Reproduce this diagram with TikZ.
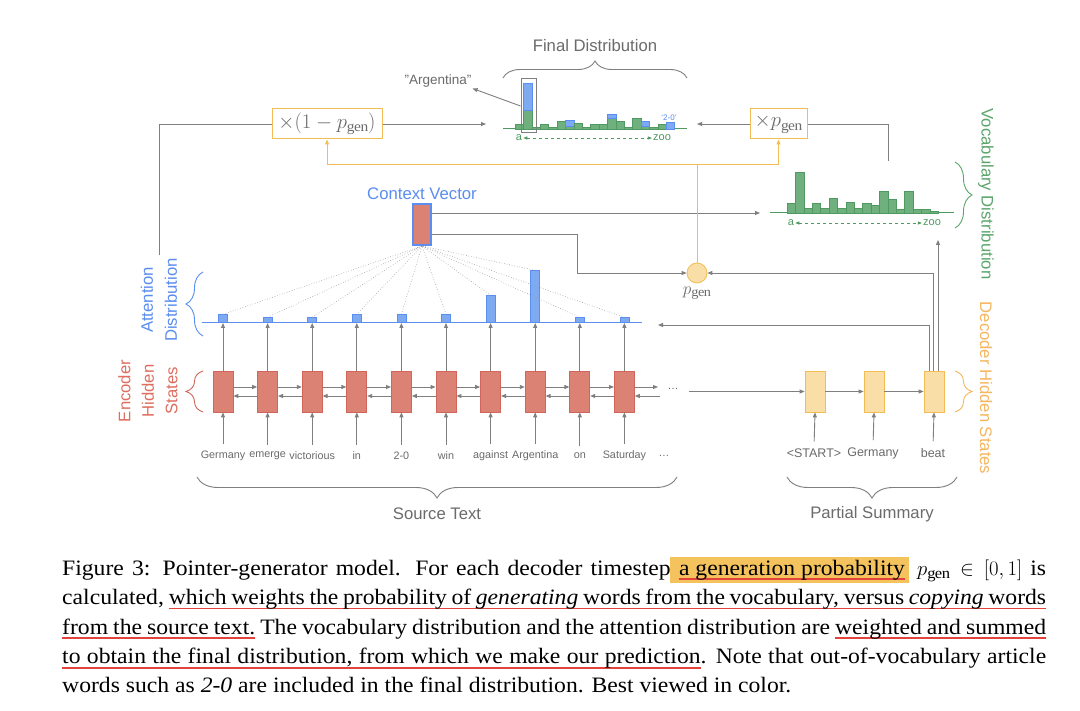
\documentclass[tikz,border=0pt]{standalone}
\usepackage{fontspec}
\setmainfont{Liberation Serif}[FakeStretch=1.075]
\setsansfont{Liberation Sans}
\usetikzlibrary{positioning,calc,arrows.meta,decorations.pathreplacing}
\definecolor{lineg}{HTML}{7f7f7f}
\definecolor{textg}{HTML}{6b6b6b}
\definecolor{encred}{HTML}{dc8275}
\definecolor{encredb}{HTML}{d0665a}
\definecolor{attblue}{HTML}{7eaaf2}
\definecolor{attblueb}{HTML}{5a8ef0}
\definecolor{vocgreen}{HTML}{6fb07e}
\definecolor{vocgreenb}{HTML}{4f9a60}
\definecolor{decor}{HTML}{f9dea8}
\definecolor{decorb}{HTML}{f2bd55}
\definecolor{labred}{HTML}{de6e60}
\definecolor{labblue}{HTML}{5b8def}
\definecolor{labgreen}{HTML}{5aa66b}
\definecolor{laborange}{HTML}{f5b660}
\definecolor{hlyellow}{HTML}{f5c35e}
\definecolor{ulred}{HTML}{e3433b}
% red underline, word by word, so that the spaces still stretch
\newcommand\ulword[1]{\setbox0\hbox{#1}\rlap{\textcolor{ulred}{\rule[-5pt]{\wd0}{1.8pt}}}\box0\relax}
\newcommand\ulspace{{\color{ulred}\leaders\vrule height -3.2pt depth 5pt\hskip\fontdimen2\font plus\fontdimen3\font minus\fontdimen4\font}}
\def\redl#1 #2\redend{\ulword{#1}\ifx\relax#2\relax\else\ulspace\redl#2\redend\fi}
\newcommand\redline[1]{\redl#1 \redend}
\newcommand\hlbox[1]{{\fboxsep=3pt\hskip-0.5pt\colorbox{hlyellow}{\ #1\hskip1pt}}}

\begin{document}
\begin{tikzpicture}[x=1pt, y=-1pt,
  encbox/.style={draw=encredb, fill=encred, line width=0.8pt, minimum width=20pt, minimum height=41pt, inner sep=0pt},
  decbox/.style={draw=decorb, fill=decor, line width=0.8pt, minimum width=20pt, minimum height=41pt, inner sep=0pt},
  attbar/.style={draw=attblueb, fill=attblue, line width=0.7pt, minimum width=9pt, inner sep=0pt, anchor=south},
  vbar/.style={draw=vocgreenb, fill=vocgreen, line width=0.6pt},
  abar/.style={draw=attblueb, fill=attblue, line width=0.6pt},
  gline/.style={draw=lineg, line width=0.9pt},
  arr/.style={gline, -{Triangle[length=5pt,width=4pt]}},
  oline/.style={draw=decorb, line width=1pt},
  oarr/.style={oline, -{Triangle[length=5pt,width=4pt]}},
  dotline/.style={draw=lineg!80, line width=0.6pt, dotted},
  word/.style={font=\sffamily\fontsize{10.8}{12}\selectfont, text=textg, inner sep=1pt},
  dword/.style={font=\sffamily\fontsize{12.5}{14}\selectfont, text=textg, inner sep=1pt},
  tick/.style={font=\sffamily\fontsize{11}{12}\selectfont, text=vocgreenb, inner sep=1pt},
  title/.style={font=\sffamily\fontsize{16.7}{24}\selectfont, text=textg, align=center},
  gbrace/.style={decorate, decoration={brace, amplitude=17pt}, line width=0.9pt},
  mbox/.style={draw=decorb, line width=1pt, minimum height=30pt, inner sep=0pt, text=textg, font=\fontsize{20.5}{22}\selectfont},
]
\fill[white] (0,0) rectangle (1080,711);
\useasboundingbox (0,0) rectangle (1080,711);

% Encoder
\foreach \w [count=\i] in {Germany,emerge,victorious,in,2-0,win,against,Argentina,on,Saturday} {
  \node[encbox] (e\i) at ({223+(\i-1)*44.6},391.5) {};
  \node[word] (w\i) at ({223+(\i-1)*44.6},456) {\w};
  \draw[arr, shorten <=6pt] (w\i.north) -- (e\i.south);
}
\node[word] (wdots) at (664,456) {\dots};
\foreach \i in {1,...,9} {
  \pgfmathtruncatemacro{\j}{\i+1}
  \draw[arr] ([yshift=4.5pt]e\i.east) -- ([yshift=4.5pt]e\j.west);
  \draw[arr] ([yshift=-4.5pt]e\j.west) -- ([yshift=-4.5pt]e\i.east);
}
\coordinate (efwd) at (658,387);
\coordinate (ebwd) at (660,396);
\draw[arr] ([yshift=4.5pt]e10.east) -- (efwd);
\draw[arr] (ebwd) -- ([yshift=-4.5pt]e10.east);
\node[text=textg, font=\sffamily\fontsize{11}{12}\selectfont] (edots) at (673,389) {\dots};

% Attention distribution
\node[draw=attblueb, line width=2pt, fill=encred, minimum width=18pt, minimum height=41pt, inner sep=0pt] (cv) at (422,224.5) {};
\node[title, text=labblue, above=0pt of cv] (cvl) {Context Vector};
\draw[attblueb, line width=1pt] (202,323) -- (642,323);
\foreach \h [count=\i] in {8,5,5,8,8,8,27,52,5,5} {
  \node[attbar, minimum height=\h pt] (a\i) at (e\i.north |- 0,323) {};
  \draw[arr] (e\i.north) -- (a\i.south);
  \draw[dotline] (a\i.north) -- (cv.south);
}

% Decoder
\foreach \w/\x [count=\i] in {<START>/815,Germany/874,beat/934} {
  \node[decbox] (d\i) at (\x,391.5) {};
  \node[dword] (dw\i) at (\x-1,453) {\w};
  \draw[arr, shorten <=6pt] (dw\i.north) -- (d\i.south);
}
\coordinate (ed) at (689,391.5);
\draw[arr] (ed) -- (d1.west);
\draw[arr] (d1) -- (d2);
\draw[arr] (d2) -- (d3);

% p_gen
\node[circle, draw=decorb, fill=decor, line width=0.8pt, minimum size=20pt, inner sep=0pt] (pg) at (697,273) {};
\node[text=textg, font=\fontsize{19}{20}\selectfont, below=0pt of pg] (pgl) {$p_{\mathrm{gen}}$};
\coordinate (vin) at (760,213);
\draw[arr] (cv.east |- vin) -- (vin);
\draw[arr] (cv.east |- 0,234) -- (577,234) |- (pg.west);
\coordinate (attin) at (658,325);
\coordinate (vout) at (938,240);
\draw[arr] ([xshift=-4.5pt]d3.north) |- (attin);
\draw[arr] ([xshift=-0.5pt]d3.north) |- (pg.east);
\draw[arr] ([xshift=4pt]d3.north) -- (vout);

% Mixing boxes
\node[mbox, minimum width=110pt] (m1) at (327,124) {$\times(1-p_{\mathrm{gen}})$};
\node[mbox, minimum width=57pt] (m2) at (778.5,124) {$\times p_{\mathrm{gen}}$};
\coordinate (oj) at (697,165);
\draw[oline] (pg.north) -- (oj);
\draw[oarr] (oj) -| (m1.south);
\draw[oarr] (oj) -| (m2.south);
\coordinate (lstart) at (159,255);
\coordinate (rstart) at (888,161);
\coordinate (fin1) at (486,124);
\coordinate (fin2) at (697,124);
\draw[gline] (lstart) |- (m1.west);
\draw[arr] (m1.east) -- (fin1);
\draw[gline] (rstart) |- (m2.east);
\draw[arr] (m2.west) -- (fin2);

% Vocabulary distribution
\draw[vocgreenb, line width=1pt] (770,213) -- (954,213);
\foreach \h [count=\i from 0] in {10,41,5,10,5,15,5,11,5,10,8,22,14,4,22,4,4,2} {
  \draw[vbar] ({787+\i*8.4},213) rectangle ++(8.4,-\h);
}
\node[tick] (va) at (791,223) {a};
\node[tick] (vz) at (932,223) {zoo};
\draw[vocgreenb, dashed, line width=0.8pt, {Triangle[length=4pt,width=3pt]}-{Triangle[length=4pt,width=3pt]}] (va) -- (vz);

% Final distribution
\draw[vocgreenb, line width=1pt] (503,129) -- (687,129);
\foreach \g/\b [count=\i from 0] in {5/0,19/27,2/0,5/0,2/0,8/0,3/6,6/0,2/0,5/0,5/0,11/4,8/0,2/0,11/0,3/5,2/0,5/0,0/7} {
  \ifnum\g>0
    \draw[vbar] ({515+\i*8.4},129) rectangle ++(8.4,-\g);
  \fi
  \ifnum\b>0
    \draw[abar] ({515+\i*8.4},{129-\g}) rectangle ++(8.4,-\b);
  \fi
}
\node[draw=lineg, line width=1pt, minimum width=15pt, minimum height=54pt, inner sep=0pt] (argbox) at (528.5,106) {};
\node[dword, font=\sffamily\fontsize{13.5}{15}\selectfont] (arg) at (438,81) {"Argentina"};
\draw[arr] (argbox.west) -- (arg.south east);
\node[text=labblue, font=\sffamily\fontsize{8}{9}\selectfont, inner sep=0pt] (oov) at (669,118) {`2-0'};
\node[tick] (fa) at (519,138) {a};
\node[tick] (fz) at (662,138) {zoo};
\draw[vocgreenb, dashed, line width=0.8pt, {Triangle[length=4pt,width=3pt]}-{Triangle[length=4pt,width=3pt]}] (fa) -- (fz);

% Braces and labels
\draw[gbrace, lineg] (503,78) -- (687,78);
\node[title] (fdl) at (595,46) {Final Distribution};
\draw[gbrace, lineg, decoration={amplitude=21pt}] (677,477) -- (197,477);
\node[title] (srcl) at (437,514) {Source Text};
\draw[gbrace, lineg, decoration={amplitude=21pt}] (957,477) -- (787,477);
\node[title] (suml) at (872,514) {Partial Summary};
\draw[gbrace, attblueb] (203,336) -- (203,272);
\node[title, text=labblue, rotate=90] (attl) at (159,300) {Attention\\Distribution};
\draw[gbrace, encredb] (203,412) -- (203,371);
\node[title, text=labred, rotate=90, font=\sffamily\fontsize{16.7}{23.5}\selectfont] (encl) at (148,391) {Encoder\\Hidden\\States};
\draw[gbrace, labgreen] (955,162) -- (955,228);
\node[title, text=labgreen, rotate=-90] (vocl) at (986,194) {Vocabulary Distribution};
\draw[gbrace, laborange] (955,371) -- (955,412);
\node[title, text=laborange, rotate=-90] (decl) at (986,388) {Decoder Hidden States};

% Caption
\node[anchor=base west, inner sep=0pt, text width=984pt, align=justify, font=\fontsize{22}{29.5}\selectfont] (cap) at (62,575) {Figure 3: Pointer-generator model. For each decoder timestep\hlbox{\redline{a generation probability}} $p_{\mathrm{gen}}\in[0,1]$ is\linebreak
calculated, \redline{which weights the probability of \emph{generating} words from the vocabulary, versus \emph{copying} words}\linebreak
\redline{from the source text.} The vocabulary distribution and the attention distribution are \redline{weighted and summed}\linebreak
\redline{to obtain the final distribution, from which we make our prediction}. Note that out-of-vocabulary article\linebreak
words such as \emph{2-0} are included in the final distribution. Best viewed in color.};

\end{tikzpicture}
\end{document}
